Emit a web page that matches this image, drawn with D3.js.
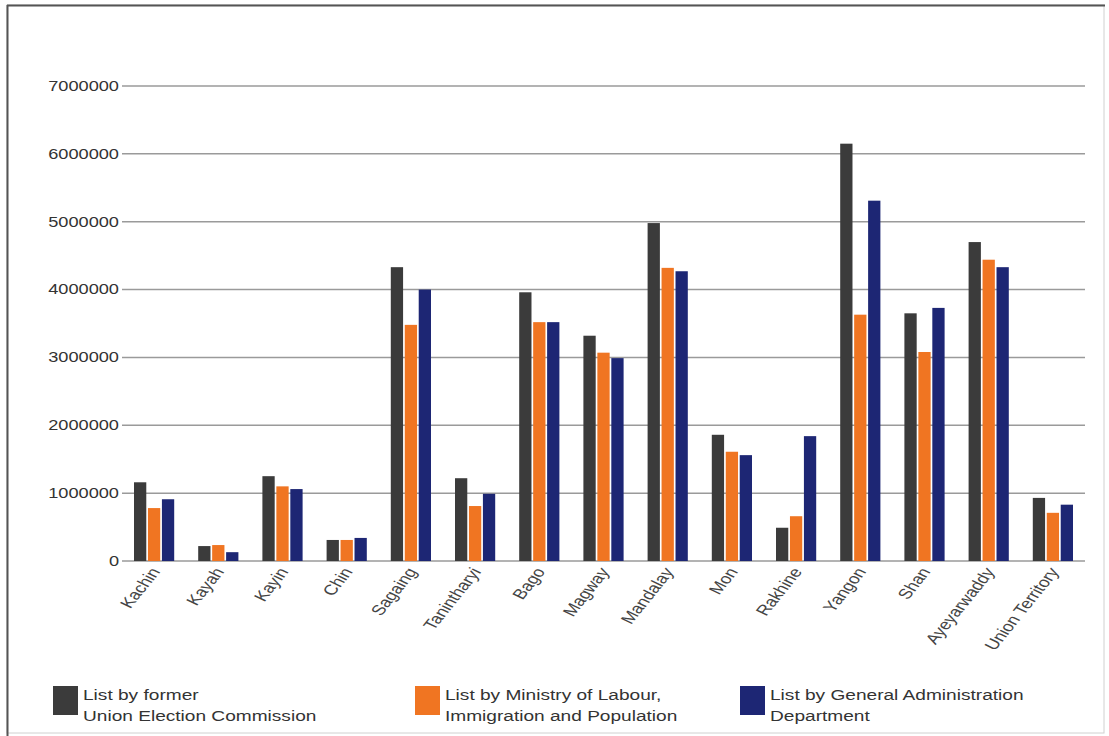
<!DOCTYPE html>
<html>
<head>
<meta charset="utf-8">
<script src="https://cdn.jsdelivr.net/npm/d3@7"></script>
<style>
  html, body { margin: 0; padding: 0; background: #fff; }
  svg { display: block; }
  text { font-family: "Liberation Sans", Arial, sans-serif; }
</style>
</head>
<body>
<svg id="chart" width="1109" height="736"></svg>
<script>
const categories = ["Kachin","Kayah","Kayin","Chin","Sagaing","Tanintharyi","Bago","Magway","Mandalay","Mon","Rakhine","Yangon","Shan","Ayeyarwaddy","Union Territory"];
const seriesNames = [
  ["List by former", "Union Election Commission"],
  ["List by Ministry of Labour,", "Immigration and Population"],
  ["List by General Administration", "Department"]
];
const uecValues   = [1160000, 220000, 1250000, 310000, 4330000, 1220000, 3960000, 3320000, 4980000, 1860000, 490000, 6150000, 3650000, 4700000, 930000];
const molipValues = [780000, 235000, 1100000, 310000, 3480000, 810000, 3520000, 3070000, 4320000, 1610000, 660000, 3630000, 3080000, 4440000, 710000];
const gadValues   = [910000, 130000, 1060000, 340000, 4000000, 990000, 3520000, 2990000, 4270000, 1560000, 1840000, 5310000, 3730000, 4330000, 830000];
const yTicks = [0, 1000000, 2000000, 3000000, 4000000, 5000000, 6000000, 7000000];
const colors = ["#3b3b3b", "#f07522", "#1d2674"];

const series = [uecValues, molipValues, gadValues];
const svg = d3.select("#chart");
const SX = 1.3; // horizontal stretch of the original image

// frame
svg.append("rect").attr("x", 7).attr("y", 5).attr("width", 1097).attr("height", 728)
  .attr("fill", "#fff").attr("stroke", "#d0d0d0").attr("stroke-width", 1);
svg.append("line").attr("x1", 7).attr("x2", 1105).attr("y1", 5.5).attr("y2", 5.5)
  .attr("stroke", "#555").attr("stroke-width", 2);
svg.append("line").attr("x1", 7.5).attr("x2", 7.5).attr("y1", 5).attr("y2", 736)
  .attr("stroke", "#555").attr("stroke-width", 2);

const x0 = d3.scaleBand().domain(categories).range([122, 1085]).paddingInner(0).paddingOuter(0);
const innerPad = 12;
const x1 = d3.scaleBand().domain([0,1,2]).range([innerPad, x0.bandwidth() - innerPad]).paddingInner(0.12);
const y = d3.scaleLinear().domain([0, 7000000]).range([561, 86]);

// gridlines
const grid = svg.append("g");
grid.selectAll("line").data(yTicks).join("line")
  .attr("x1", 122).attr("x2", 1085)
  .attr("y1", d => y(d)).attr("y2", d => y(d))
  .attr("stroke", "#9a9a9a").attr("stroke-width", 1.5);

// y labels
const yl = svg.append("g");
yl.selectAll("g").data(yTicks).join("g")
  .attr("transform", d => `translate(119,${y(d)}) scale(${SX},1)`)
  .append("text")
  .attr("text-anchor", "end").attr("dy", "0.35em")
  .attr("font-size", 14).attr("fill", "#333")
  .text(d => d3.format("d")(d));

// bars
const groups = svg.append("g").selectAll("g").data(categories).join("g")
  .attr("transform", d => `translate(${x0(d)},0)`);
groups.selectAll("rect").data((d, i) => series.map((s, k) => ({k, v: s[i]}))).join("rect")
  .attr("x", d => x1(d.k))
  .attr("width", x1.bandwidth())
  .attr("y", d => y(d.v))
  .attr("height", d => y(0) - y(d.v))
  .attr("fill", d => colors[d.k]);

// x labels
const xl = svg.append("g");
xl.selectAll("g").data(categories).join("g")
  .attr("transform", d => `translate(${x0(d) + x0.bandwidth()/2 + 1},569) scale(${SX},1) rotate(-58)`)
  .append("text")
  .attr("text-anchor", "end").attr("dy", "0.35em")
  .attr("font-size", 14.5).attr("fill", "#444")
  .text(d => d);

// legend
const legendX = [53, 415, 740];
const lg = svg.append("g").selectAll("g").data(seriesNames).join("g");
lg.append("rect")
  .attr("x", (d, i) => legendX[i]).attr("y", 686)
  .attr("width", 25).attr("height", 29)
  .attr("fill", (d, i) => colors[i]);
lg.each(function(d, i) {
  const g = d3.select(this);
  d.forEach((line, j) => {
    g.append("g")
      .attr("transform", `translate(${legendX[i] + 30},${695 + j * 21}) scale(${SX * 0.98},1)`)
      .append("text").attr("font-size", 15).attr("fill", "#333").attr("dy", "0.35em")
      .text(line);
  });
});
</script>
</body>
</html>
